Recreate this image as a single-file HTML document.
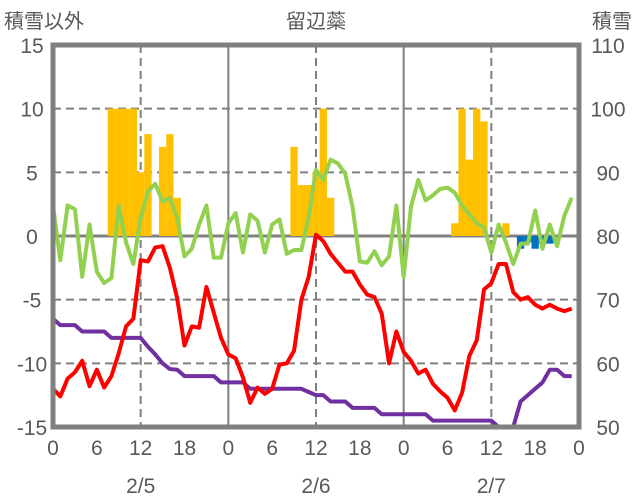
<!DOCTYPE html>
<html><head><meta charset="utf-8"><style>
body{margin:0;background:#fff}
svg{display:block;font-family:"Liberation Sans Narrow","Liberation Sans","Noto Sans CJK JP",sans-serif}
</style></head><body>
<svg id="c" width="636" height="501" viewBox="0 0 636 501"></svg>
<script>
const hours = Array.from({length:72},(_,i)=>i);
const leftTicks = [15,10,5,0,-5,-10,-15];
const rightTicks = [110,100,90,80,70,60,50];
const xTickLabels = ["0","6","12","18","0","6","12","18","0","6","12","18","0"];
const dateLabels = ["2/5","2/6","2/7"];
const tempValues = [-12.0,-12.6,-11.2,-10.7,-9.8,-11.8,-10.5,-11.9,-11.0,-9.2,-7.1,-6.5,-1.9,-2.0,-0.9,-0.8,-2.5,-4.9,-8.6,-7.1,-7.2,-4.0,-6.0,-8.0,-9.3,-9.6,-11.1,-13.1,-11.9,-12.4,-12.0,-10.1,-10.0,-9.0,-5.0,-3.2,0.1,-0.4,-1.4,-2.1,-2.8,-2.8,-3.8,-4.6,-4.8,-6.1,-10.0,-7.5,-9.1,-9.8,-10.8,-10.5,-11.6,-12.2,-12.7,-13.7,-12.3,-9.4,-8.2,-4.2,-3.7,-2.2,-2.2,-4.4,-5.0,-4.8,-5.4,-5.7,-5.4,-5.7,-5.9,-5.7];
const windValues = [2.4,-1.9,2.4,2.1,-3.2,0.9,-2.8,-3.7,-3.3,2.4,-0.5,-2.2,1.4,3.5,4.1,2.7,3.0,1.4,-1.6,-1.0,0.9,2.4,-1.7,-1.7,1.0,1.8,-1.3,1.7,1.2,-1.3,0.9,1.3,-1.4,-1.1,-1.1,1.5,5.2,4.4,6.0,5.7,4.9,2.3,-2.0,-2.1,-1.2,-2.3,-1.6,2.4,-3.2,2.3,4.4,2.8,3.2,3.7,3.8,3.4,2.4,1.7,1.0,0.7,-1.3,0.9,-0.5,-2.2,-0.6,-0.6,2.0,-1.0,0.9,-0.8,1.6,3.0];
const snowDepth = [67,66,66,66,65,65,65,65,64,64,64,64,64,62.6,61.4,60,59.1,59,58,58,58,58,58,57,57,57,57,56,56,56,56,56,56,56,56,55.5,55,55,54,54,54,53,53,53,53,52,52,52,52,52,52,52,51,51,51,51,51,51,51,51,51,50,50,50,54,55,56,57,59,59,58,58];
const snowfall = [0,0,0,0,0,0,0,0,10,10,10,10,5,8,0,7,8,3,0,0,0,0,0,0,0,0,0,0,0,0,0,0,0,7,4,4,5,10,3,0,0,0,0,0,0,0,0,0,0,0,0,0,0,0,0,1,10,6,10,9,0,0,1,0,-1,-0.5,-1,-0.6,-0.6,0,0,0];

const X0=53,X1=579,Y0=45,Y1=427;
const xs=h=>X0+(X1-X0)*h/72;
const yl=v=>Y1-(v+15)/30*(Y1-Y0);
const yr=v=>Y1-(v-50)/60*(Y1-Y0);
const svg=document.getElementById('c');
const NS='http://www.w3.org/2000/svg';
function mk(tag,attrs,parent){const e=document.createElementNS(NS,tag);for(const k in attrs)e.setAttribute(k,attrs[k]);(parent||svg).appendChild(e);return e;}
function txt(x,y,s,anchor,size){const t=mk('text',{x:x,y:y,'text-anchor':anchor,'font-size':size,fill:'#595959'});t.textContent=s;return t;}

// grid
leftTicks.forEach(v=>{if(v===15||v===-15)return;
  const l=mk('line',{x1:X0,x2:X1,y1:yl(v),y2:yl(v),stroke:'#808080','stroke-width':v===0?3:2,'stroke-dasharray':v===0?'':'8,5'});
  
  
});
for(let h=12;h<72;h+=12){
  const l=mk('line',{x1:xs(h),x2:xs(h),y1:Y0,y2:Y1,stroke:'#808080','stroke-width':2,'stroke-dasharray':h%24===0?'':'8,5'});
  
  
}
// bars
const bw=(X1-X0)/72;
snowfall.forEach((v,h)=>{if(!v)return;
  const y=Math.min(yl(v),yl(0)),hh=Math.abs(yl(v)-yl(0));
  const r=mk('rect',{x:xs(h)-bw/2,y:y,width:bw,height:hh,fill:v>0?'#ffc000':'#0070c0'});
  
  
});
function line(vals,f,col,name){
  const p=mk('polyline',{points:vals.map((v,h)=>xs(h)+','+f(v)).join(' '),fill:'none',stroke:col,'stroke-width':4,'stroke-linejoin':'round'});
  
  
}
line(windValues,yl,'#92d050','wind-line');
line(snowDepth,yr,'#7030a0','snow-depth-line');
line(tempValues,yl,'#ff0000','temperature-line');
// frame
const fr=mk('rect',{x:X0,y:Y0,width:X1-X0,height:Y1-Y0,fill:'none',stroke:'#808080','stroke-width':5});


// labels
leftTicks.forEach(v=>{const t=txt(32,yl(v)+8,String(v),'middle',21);
  
  });
rightTicks.forEach(v=>{const t=txt(608,yr(v)+8,String(v),'middle',21);
  
  });
xTickLabels.forEach((s,i)=>{const t=txt(xs(i*6),455,s,'middle',21);
  
  });
dateLabels.forEach((s,i)=>{const t=txt(xs(i*24+12),493,s,'middle',21);
  
  });
let t=txt(4,28,'積雪以外','start',20);


t=txt(316,28,'留辺蘂','middle',20);


t=txt(632,28,'積雪','end',20);


</script>
</body></html>
